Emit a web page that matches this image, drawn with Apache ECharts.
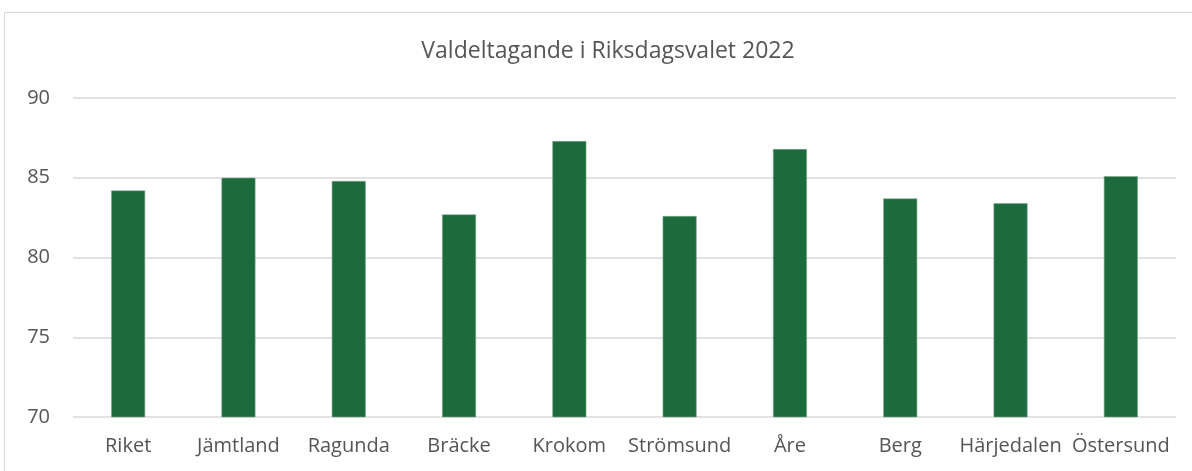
<!DOCTYPE html>
<html>
<head>
<meta charset="utf-8">
<script src="https://cdn.jsdelivr.net/npm/echarts@6/dist/echarts.min.js"></script>
<style>
  html, body { margin: 0; padding: 0; background: #ffffff; }
  #frame {
    position: absolute; left: 4px; top: 12px; width: 1200px; height: 470px;
    border: 1.5px solid #d9d9d9; box-sizing: border-box;
  }
  #chart { position: absolute; left: 0; top: 0; width: 1192px; height: 471px; }
</style>
</head>
<body>
<div id="frame"></div>
<div id="chart"></div>
<script>
// Valdeltagande (%) per kommun, riksdagsvalet 2022
const titleText = 'Valdeltagande i Riksdagsvalet 2022';
const categories = ['Riket', 'Jämtland', 'Ragunda', 'Bräcke', 'Krokom', 'Strömsund', 'Åre', 'Berg', 'Härjedalen', 'Östersund'];
const turnout = [84.2, 85.0, 84.8, 82.7, 87.3, 82.6, 86.8, 83.7, 83.4, 85.1];
const yMin = 70;
const yMax = 90;
const yStep = 5;

const fontFamily = '"Open Sans", "Noto Sans", sans-serif';
const textColor = '#555555';

const chart = echarts.init(document.getElementById('chart'), null, { renderer: 'canvas' });
chart.setOption({
  animation: false,
  backgroundColor: 'transparent',
  title: {
    text: titleText,
    left: 603, top: 35, textAlign: 'center',
    textStyle: { fontFamily, fontSize: 23, fontWeight: 'normal', color: textColor }
  },
  grid: { left: 73, right: 16, top: 98, bottom: 54, containLabel: false },
  xAxis: {
    type: 'category',
    data: categories,
    axisLine: { show: false },
    axisTick: { show: false },
    axisLabel: { fontFamily, fontSize: 20, color: textColor, margin: 19, interval: 0 }
  },
  yAxis: {
    type: 'value',
    min: yMin, max: yMax, interval: yStep,
    axisLine: { show: false },
    axisTick: { show: false },
    axisLabel: { fontFamily, fontSize: 20, color: textColor, margin: 23 },
    splitLine: { lineStyle: { color: '#d9d9d9', width: 1.5 } }
  },
  series: [{
    type: 'bar',
    data: turnout,
    barWidth: 34,
    itemStyle: { color: '#1d6b3d', borderColor: '#7fa88d', borderWidth: 0.6 }
  }]
});
</script>
</body>
</html>
